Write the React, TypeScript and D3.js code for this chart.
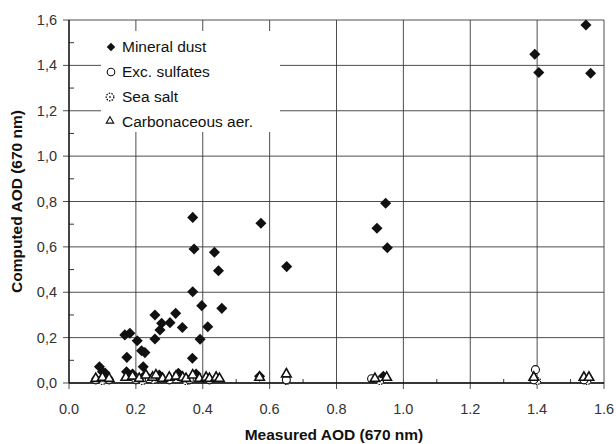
import React from "react";
import * as d3 from "d3";

const W = 616;
const H = 444;

const xTicks = [0, 0.2, 0.4, 0.6, 0.8, 1.0, 1.2, 1.4, 1.6];
const yTicks = [0, 0.2, 0.4, 0.6, 0.8, 1.0, 1.2, 1.4, 1.6];
const xTickLabels = ["0.0", "0.2", "0.4", "0.6", "0.8", "1.0", "1.2", "1.4", "1.6"];
const yTickLabels = ["0,0", "0,2", "0,4", "0,6", "0,8", "1,0", "1,2", "1,4", "1,6"];
const minorTicks = [0.1, 0.3, 0.5, 0.7, 0.9, 1.1, 1.3, 1.5];

const seriesNames = ["Mineral dust", "Exc. sulfates", "Sea salt", "Carbonaceous aer."];

const mineralDust: [number, number][] = [
  [1.546, 1.578], [1.393, 1.449], [1.405, 1.369], [1.56, 1.365],
  [0.947, 0.792], [0.921, 0.682], [0.952, 0.596], [0.574, 0.704], [0.651, 0.513],
  [0.37, 0.73], [0.374, 0.591], [0.435, 0.576], [0.447, 0.495], [0.37, 0.402],
  [0.397, 0.341], [0.457, 0.329], [0.319, 0.307], [0.302, 0.266], [0.277, 0.263],
  [0.257, 0.3], [0.339, 0.245], [0.415, 0.248], [0.272, 0.234], [0.257, 0.194],
  [0.392, 0.193], [0.369, 0.109],
  [0.167, 0.212], [0.182, 0.219], [0.204, 0.186], [0.173, 0.113], [0.217, 0.142],
  [0.227, 0.134], [0.091, 0.072], [0.1, 0.05], [0.108, 0.044], [0.172, 0.05],
  [0.222, 0.072], [0.327, 0.043], [0.228, 0.035], [0.57, 0.03], [0.94, 0.03],
  [0.38, 0.04], [0.19, 0.04], [0.27, 0.035], [0.33, 0.03],
];

const excSulfates: [number, number][] = [
  [1.395, 0.05], [0.08, 0.005], [0.12, 0.005], [0.2, 0.005], [0.24, 0.01],
  [0.3, 0.005], [0.36, 0.005], [0.42, 0.005], [0.65, 0.005], [0.905, 0.01],
  [1.39, 0.005], [1.54, 0.005],
];

const seaSalt: [number, number][] = [
  [0.22, 0.0], [0.25, 0.004], [0.1, 0.0], [0.35, 0.0], [0.65, 0.0],
  [0.93, 0.0], [1.4, 0.0], [1.55, 0.0],
];

const carbonaceous: [number, number][] = [
  [0.08, 0.015], [0.1, 0.02], [0.12, 0.015], [0.17, 0.02], [0.19, 0.025],
  [0.21, 0.015], [0.23, 0.03], [0.25, 0.02], [0.26, 0.03], [0.28, 0.015],
  [0.3, 0.02], [0.32, 0.025], [0.34, 0.02], [0.35, 0.015], [0.37, 0.03],
  [0.39, 0.015], [0.41, 0.02], [0.42, 0.015], [0.44, 0.02], [0.45, 0.015],
  [0.57, 0.02], [0.65, 0.035], [0.915, 0.015], [0.95, 0.02], [1.39, 0.02],
  [1.54, 0.02], [1.555, 0.02],
];

const x = d3.scaleLinear().domain([0, 1.6]).range([69, 604]);
const y = d3.scaleLinear().domain([0, 1.6]).range([383, 20]);

const diamondPath = d3.symbol().type(d3.symbolDiamond2).size(78)() as string;
const diamondSmall = d3.symbol().type(d3.symbolDiamond2).size(46)() as string;
const triPath = d3.symbol().type(d3.symbolTriangle2).size(66)() as string;
const triSmall = d3.symbol().type(d3.symbolTriangle2).size(40)() as string;

const FONT = "'Liberation Sans', Arial, Helvetica, sans-serif";

export default function App() {
  const gridColor = "#3a3a3a";
  return (
    <div style={{ position: "fixed", left: 0, top: 0 }}>
      <svg width={W} height={H} style={{ display: "block", background: "#fff" }}>
        {/* grid */}
        {xTicks.map((t, i) => (
          <line key={"gx" + i} x1={x(t)} x2={x(t)} y1={y(1.6)} y2={y(0) + 6}
            stroke={gridColor} strokeWidth={0.9} />
        ))}
        {yTicks.map((t, i) => (
          <line key={"gy" + i} x1={x(0) - 6} x2={x(1.6)} y1={y(t)} y2={y(t)}
            stroke={gridColor} strokeWidth={0.9} />
        ))}
        {/* minor ticks */}
        {minorTicks.map((t, i) => (
          <line key={"mx" + i} x1={x(t)} x2={x(t)} y1={y(0)} y2={y(0) - 4}
            stroke="#222" strokeWidth={0.9} />
        ))}
        {minorTicks.map((t, i) => (
          <line key={"my" + i} x1={x(0)} x2={x(0) + 5} y1={y(t)} y2={y(t)}
            stroke="#222" strokeWidth={0.9} />
        ))}
        {/* axes */}
        <line x1={x(0)} x2={x(0)} y1={y(1.6)} y2={y(0)} stroke="#111" strokeWidth={1.3} />
        <line x1={x(0)} x2={x(1.6)} y1={y(0)} y2={y(0)} stroke="#111" strokeWidth={1.3} />

        {/* tick labels */}
        {yTicks.map((t, i) => (
          <text key={"yl" + i} x={57} y={y(t) + 5} textAnchor="end"
            fontFamily={FONT} fontSize={14.5} fill="#333">{yTickLabels[i]}</text>
        ))}
        {xTicks.map((t, i) => (
          <text key={"xl" + i} x={x(t)} y={414} textAnchor="middle"
            fontFamily={FONT} fontSize={14.5} fill="#333">{xTickLabels[i]}</text>
        ))}

        {/* axis titles */}
        <text x={334} y={440} textAnchor="middle" fontFamily={FONT} fontSize={15.5}
          fontWeight="bold" fill="#111">Measured AOD (670 nm)</text>
        <text transform={`translate(22,${(y(0) + y(1.6)) / 2}) rotate(-90)`} textAnchor="middle"
          fontFamily={FONT} fontSize={15.5} fontWeight="bold" fill="#111">Computed AOD (670 nm)</text>

        {/* legend */}
        <rect x={101} y={31} width={179} height={101} fill="#fff" />
        <path d={diamondSmall} transform="translate(111,47)" fill="#111" />
        <circle cx={111} cy={72} r={3.8} fill="#fff" stroke="#111" strokeWidth={1.1} />
        <circle cx={110} cy={97} r={3.8} fill="#fff" stroke="#111" strokeWidth={1.3} strokeDasharray="1.5,1.2" />
        <circle cx={110} cy={97} r={1} fill="#444" />
        <path d={triSmall} transform="translate(110,121)" fill="#fff" stroke="#111" strokeWidth={1.1} />
        {seriesNames.map((n, i) => (
          <text key={"lg" + i} x={122} y={52 + i * 25} fontFamily={FONT} fontSize={15.5} fill="#111">{n}</text>
        ))}

        {/* data */}
        {mineralDust.map((d, i) => (
          <path key={"md" + i} d={diamondPath} transform={`translate(${x(d[0])},${y(d[1])})`} fill="#111" />
        ))}
        {seaSalt.map((d, i) => (
          <g key={"ss" + i}>
            <circle cx={x(d[0])} cy={y(d[1]) - 2} r={3.5} fill="#fff" stroke="#111"
              strokeWidth={1.2} strokeDasharray="1.5,1.2" />
            <circle cx={x(d[0])} cy={y(d[1]) - 2} r={1} fill="#444" />
          </g>
        ))}
        {excSulfates.map((d, i) => (
          <circle key={"es" + i} cx={x(d[0])} cy={y(d[1]) - 2} r={4} fill="#fff" stroke="#111" strokeWidth={1.1} />
        ))}
        {carbonaceous.map((d, i) => (
          <path key={"ca" + i} d={triPath} transform={`translate(${x(d[0])},${y(d[1]) - 1})`}
            fill="#fff" stroke="#111" strokeWidth={1.6} />
        ))}
      </svg>
    </div>
  );
}
